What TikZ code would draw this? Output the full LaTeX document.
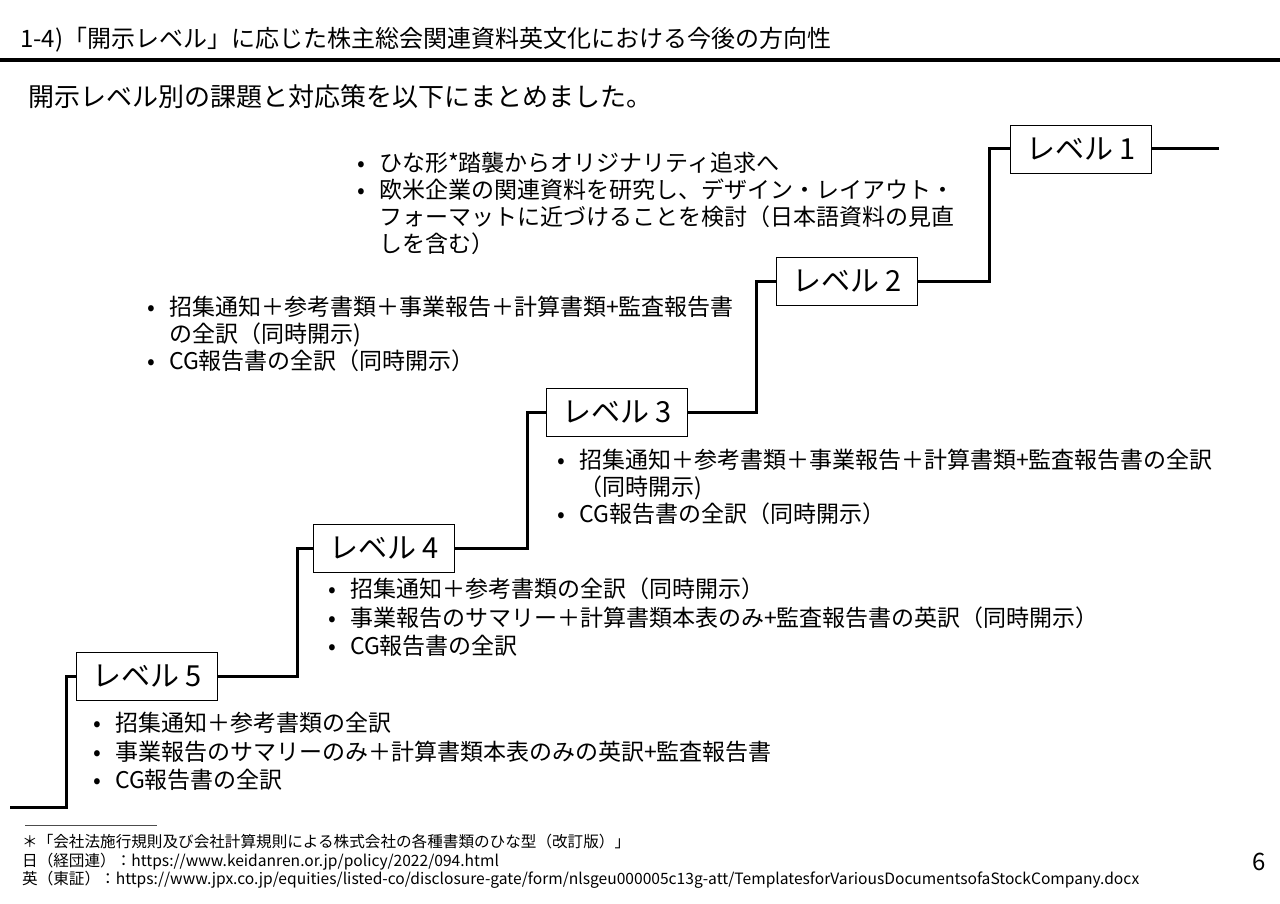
\documentclass[tikz,border=0pt]{standalone}
\usepackage{fontspec}
\setmainfont{Noto Sans CJK JP}
\newcommand\bitem{\makebox[22pt][l]{•}}
\newcommand\bcont{\hspace*{22pt}}
\tikzset{
  levelbox/.style={draw, line width=0.8pt, fill=white, minimum width=141pt,
    minimum height=48pt, inner sep=0pt, font=\fontsize{29}{30}\selectfont},
  stepline/.style={line width=3pt},
  notes/.style={anchor=north west, align=left, inner sep=0pt,
    font=\fontsize{23}{27}\selectfont},
  widenotes/.style={notes, font=\fontsize{23}{28.5}\selectfont},
  footnotes/.style={anchor=north west, align=left, inner sep=0pt,
    font=\fontsize{15.6}{18.5}\selectfont},
}
\begin{document}
\begin{tikzpicture}[x=1pt, y=-1pt]
  \useasboundingbox (0,0) rectangle (1280,904);
  \fill[white] (0,0) rectangle (1280,904);

  % heading
  \node[anchor=west, inner sep=0pt, font=\fontsize{24}{28}\selectfont] (title)
    at (20,40) {1-4)「開示レベル」に応じた株主総会関連資料英文化における今後の方向性};
  \draw[line width=3.5pt] (0,60) -- (1280,60);
  \node[anchor=west, inner sep=0pt, font=\fontsize{26}{28}\selectfont] (lead)
    at (28,97) {開示レベル別の課題と対応策を以下にまとめました。};

  % level boxes
  \node[levelbox] (lv1) at (1081,149) {レベル 1};
  \node[levelbox] (lv2) at (847,281) {レベル 2};
  \node[levelbox] (lv3) at (617,412) {レベル 3};
  \node[levelbox] (lv4) at (384,548) {レベル 4};
  \node[levelbox] (lv5) at (147,676) {レベル 5};
  \coordinate (start) at (10,807);
  \coordinate (finish) at (1219,149);

  % stairs
  \begin{scope}[stepline]
    \draw (start) -| ([xshift=-10pt]lv5.west) -- (lv5.west);
    \draw (lv5.east) -- ++(80,0) |- (lv4.west);
    \draw (lv4.east) -- ++(73,0) |- (lv3.west);
    \draw (lv3.east) -- ++(69,0) |- (lv2.west);
    \draw (lv2.east) -- ++(72,0) |- (lv1.west);
    \draw (lv1.east) -- (finish);
  \end{scope}

  % notes per level
  \node[notes] (note1) at (357,152) {%
    \bitem ひな形*踏襲からオリジナリティ追求へ\\
    \bitem 欧米企業の関連資料を研究し、デザイン・レイアウト・\\
    \bcont フォーマットに近づけることを検討（日本語資料の見直\\
    \bcont しを含む）};
  \node[notes] (note2) at (147,296) {%
    \bitem 招集通知＋参考書類＋事業報告＋計算書類+監査報告書\\
    \bcont の全訳（同時開示)\\
    \bitem CG報告書の全訳（同時開示）};
  \node[notes] (note3) at (557,449) {%
    \bitem 招集通知＋参考書類＋事業報告＋計算書類+監査報告書の全訳\\
    \bcont （同時開示)\\
    \bitem CG報告書の全訳（同時開示）};
  \node[widenotes] (note4) at (328,578) {%
    \bitem 招集通知＋参考書類の全訳（同時開示）\\
    \bitem 事業報告のサマリー＋計算書類本表のみ+監査報告書の英訳（同時開示）\\
    \bitem CG報告書の全訳};
  \node[widenotes] (note5) at (93,712) {%
    \bitem 招集通知＋参考書類の全訳\\
    \bitem 事業報告のサマリーのみ＋計算書類本表のみの英訳+監査報告書\\
    \bitem CG報告書の全訳};

  % footnote
  \draw[line width=0.8pt, black!70] (25,825) -- (157,825);
  \node[footnotes] (refs) at (22,834) {%
    ＊「会社法施行規則及び会社計算規則による株式会社の各種書類のひな型（改訂版）」\\
    日（経団連）：https://www.keidanren.or.jp/policy/2022/094.html\\
    英（東証）：https://www.jpx.co.jp/equities/listed-co/disclosure-gate/form/nlsgeu000005c13g-att/TemplatesforVariousDocumentsofaStockCompany.docx};
  \node[anchor=center, inner sep=0pt, font=\fontsize{24}{26}\selectfont] (page)
    at (1259,862) {6};
\end{tikzpicture}
\end{document}
